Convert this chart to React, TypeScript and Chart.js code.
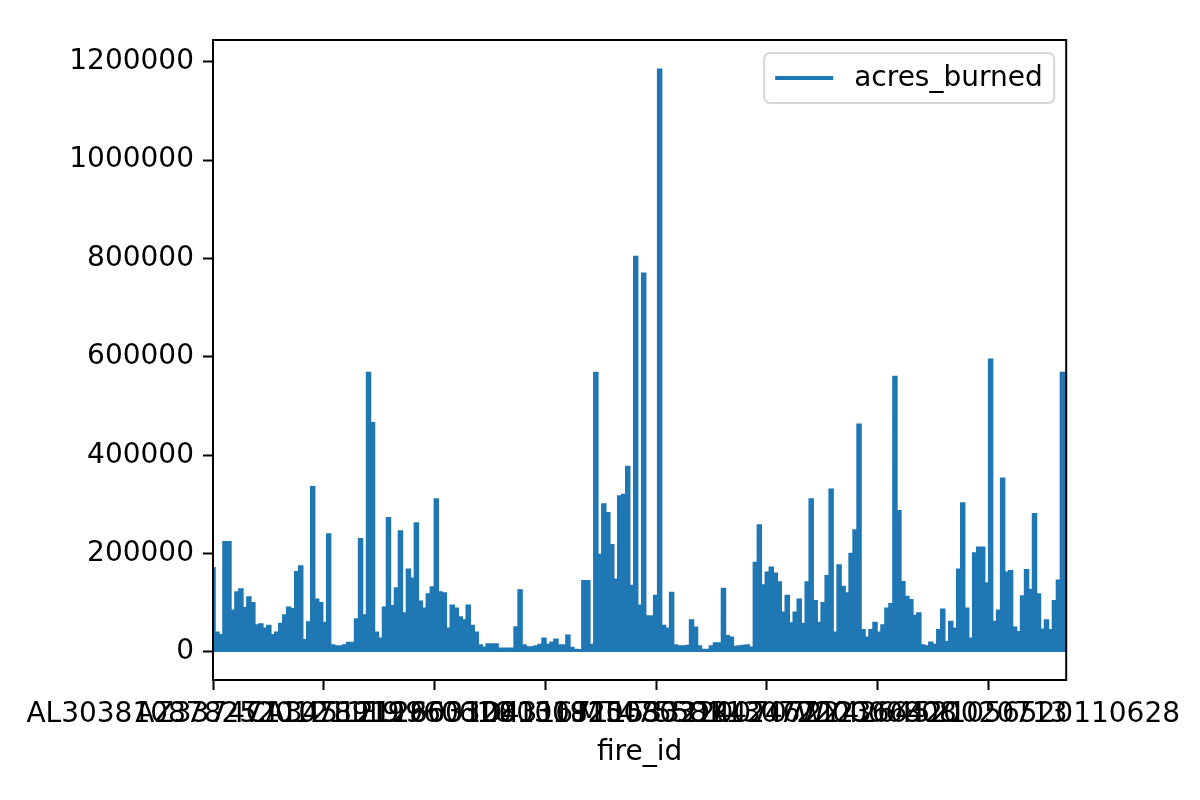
import { useEffect, useRef } from 'react';
import { Chart, registerables, Plugin } from 'chart.js';

Chart.register(...registerables);

const FONT = 'DejaVu Sans';
const BLUE = '#1f77b4';

// x axis is the row position of each fire record
const TOTAL_RECORDS = 3851;
const RECORD_STEP = 18;
const TICK_RECORDS = [0, 500, 1000, 1500, 2000, 2500, 3000, 3500];
const FIRE_ID_TICKS = [
    'AL3038108782520121119',
    'AZ3374711078919960610',
    'CA3451211860320030925',
    'FL2603108101820080314',
    'ID4316711533220070722',
    'MT4755811307220000808',
    'OR4246712366420020713',
    'WY4264521056520110628',
];

const Y_TICKS = [0, 200000, 400000, 600000, 800000, 1000000, 1200000];

// acres burned, read every ~18 records along the index
const ACRES_BURNED = [
    171000, 40000, 35000, 224000, 224000, 85000, 122000, 128000, 90000, 112000,
    100000, 55000, 57000, 48000, 54000, 35000, 40000, 58000, 75000, 91000,
    88000, 163000, 175000, 25000, 61000, 336000, 107000, 100000, 60000, 240000,
    14000, 12000, 12000, 14000, 19000, 19000, 67000, 230000, 75000, 568000,
    466000, 40000, 28000, 91000, 273000, 94000, 130000, 246000, 79000, 168000,
    150000, 262000, 103000, 89000, 118000, 132000, 311000, 122000, 120000, 48000,
    95000, 89000, 71000, 65000, 95000, 54000, 40000, 14000, 9500, 16000,
    16000, 16000, 7500, 7500, 7500, 7500, 51000, 126000, 14000, 10000,
    10000, 12000, 15000, 28000, 15000, 20000, 26000, 14000, 14000, 34000,
    9000, 5000, 4500, 145000, 145000, 15000, 568000, 198000, 301000, 283000,
    218000, 148000, 317000, 320000, 377000, 135000, 804000, 95000, 770000, 73000,
    73000, 115000, 1185000, 54000, 48000, 121000, 14000, 12000, 12000, 13000,
    65000, 50000, 12000, 5000, 5000, 12000, 18000, 18000, 129000, 33000,
    30000, 11000, 12000, 13000, 14000, 9500, 182000, 258000, 136000, 162000,
    172000, 160000, 142000, 81000, 115000, 59000, 81000, 107000, 58000, 142000,
    311000, 104000, 60000, 100000, 155000, 331000, 40000, 177000, 133000, 120000,
    200000, 248000, 463000, 45000, 30000, 45000, 60000, 40000, 55000, 89000,
    98000, 560000, 287000, 143000, 113000, 106000, 74000, 79000, 14000, 12000,
    20000, 15000, 45000, 87000, 21000, 62000, 48000, 168000, 303000, 89000,
    28000, 201000, 213000, 213000, 140000, 595000, 62000, 85000, 353000, 162000,
    165000, 50000, 41000, 114000, 167000, 127000, 281000, 118000, 46000, 65000,
    45000, 104000, 146000, 568000, 568000,
];

const frameAndLegend: Plugin<'line'> = {
    id: 'frameAndLegend',
    afterDraw(chart) {
        const { ctx, chartArea } = chart;
        ctx.save();

        // axes box
        ctx.strokeStyle = '#000';
        ctx.lineWidth = 2;
        ctx.strokeRect(chartArea.left, chartArea.top, chartArea.right - chartArea.left, chartArea.bottom - chartArea.top);

        // legend in the upper right corner
        const w = 290;
        const h = 50;
        const x = chartArea.right - 12 - w;
        const y = chartArea.top + 13;
        ctx.beginPath();
        ctx.roundRect(x, y, w, h, 6);
        ctx.fillStyle = 'rgba(255,255,255,0.8)';
        ctx.fill();
        ctx.strokeStyle = '#d6d6d6';
        ctx.lineWidth = 2;
        ctx.stroke();

        ctx.beginPath();
        ctx.moveTo(x + 11, y + h / 2);
        ctx.lineTo(x + 69, y + h / 2);
        ctx.strokeStyle = BLUE;
        ctx.lineWidth = 4;
        ctx.stroke();

        ctx.fillStyle = '#000';
        ctx.font = `28px "${FONT}"`;
        ctx.textBaseline = 'middle';
        ctx.textAlign = 'left';
        ctx.fillText('acres_burned', x + 90, y + h / 2 + 1);
        ctx.restore();
    },
};

const App = () => {
    const canvasRef = useRef<HTMLCanvasElement | null>(null);
    const chartInstance = useRef<Chart<'line'> | null>(null);

    useEffect(() => {
        if (!canvasRef.current) return;
        if (chartInstance.current) {
            chartInstance.current.destroy();
        }

        const tickFont = { family: FONT, size: 28 };

        chartInstance.current = new Chart(canvasRef.current, {
            type: 'line',
            data: {
                datasets: [
                    {
                        label: 'acres_burned',
                        data: ACRES_BURNED.map((v, i) => ({ x: i * RECORD_STEP, y: v })),
                        borderColor: BLUE,
                        backgroundColor: BLUE,
                        borderWidth: 1.5,
                        pointRadius: 0,
                        stepped: 'middle',
                        fill: 'origin',
                    },
                ],
            },
            plugins: [frameAndLegend],
            options: {
                animation: false,
                responsive: false,
                devicePixelRatio: 1,
                layout: { padding: { top: 40, right: 131, left: 0, bottom: 0 } },
                plugins: {
                    legend: { display: false },
                    tooltip: { enabled: false },
                },
                scales: {
                    x: {
                        type: 'linear',
                        min: 0,
                        max: TOTAL_RECORDS,
                        afterFit: (scale) => {
                            scale.height = 120;
                        },
                        afterBuildTicks: (scale) => {
                            scale.ticks = TICK_RECORDS.map((v) => ({ value: v }));
                        },
                        ticks: {
                            autoSkip: false,
                            maxRotation: 0,
                            minRotation: 0,
                            padding: 8,
                            color: '#000',
                            font: tickFont,
                            callback: (_v, i) => FIRE_ID_TICKS[i],
                        },
                        grid: {
                            drawOnChartArea: false,
                            drawTicks: true,
                            tickLength: 10,
                            tickWidth: 2,
                            tickColor: '#000',
                        },
                        border: { display: false },
                        title: {
                            display: true,
                            text: 'fire_id',
                            color: '#000',
                            font: tickFont,
                            padding: { top: 0, bottom: 30 },
                        },
                    },
                    y: {
                        type: 'linear',
                        min: -57000,
                        max: 1244250,
                        afterFit: (scale) => {
                            scale.width = 213;
                        },
                        afterBuildTicks: (scale) => {
                            scale.ticks = Y_TICKS.map((v) => ({ value: v }));
                        },
                        ticks: {
                            padding: 9,
                            color: '#000',
                            font: tickFont,
                            callback: (v) => String(v),
                        },
                        grid: {
                            drawOnChartArea: false,
                            drawTicks: true,
                            tickLength: 10,
                            tickWidth: 2,
                            tickColor: '#000',
                        },
                        border: { display: false },
                    },
                },
            },
        });

        return () => {
            if (chartInstance.current) {
                chartInstance.current.destroy();
                chartInstance.current = null;
            }
        };
    }, []);

    return (
        <div style={{ position: 'absolute', left: 0, top: 0, width: 1200, height: 800, background: '#fff' }}>
            <canvas ref={canvasRef} width={1200} height={800} />
        </div>
    );
};

export default App;
